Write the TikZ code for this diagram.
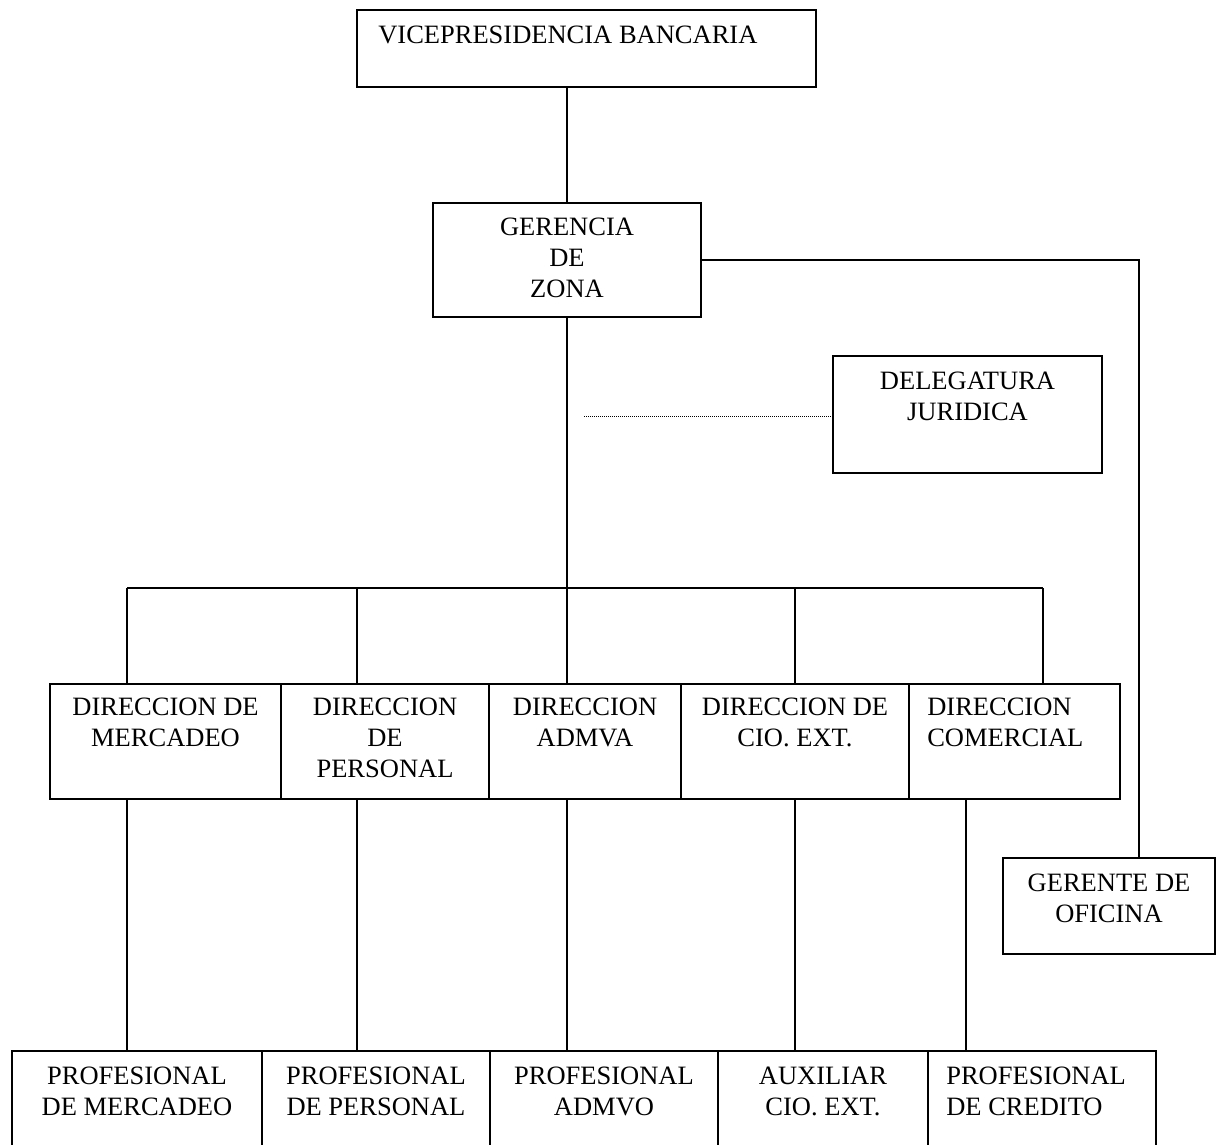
\documentclass[tikz,border=0pt]{standalone}
\usepackage{fontspec}
\setmainfont{Liberation Serif}
\usetikzlibrary{positioning}

\begin{document}
\begin{tikzpicture}[x=1pt,y=-1pt,
  caja/.style={draw,line width=1.8pt,inner sep=0pt},
  rotulo/.style={align=center,inner sep=0pt,font=\fontsize{26.5}{31}\selectfont},
  enlace/.style={line width=1.8pt},
  punteado/.style={line width=1pt,densely dotted}]
\useasboundingbox (0,0) rectangle (1220,1145);

\node[caja,minimum width=459pt,minimum height=77pt] (vp) at (586.5,48.5) {};
\node[caja,minimum width=268pt,minimum height=114pt] (gz) at (567,260) {};
\node[caja,minimum width=269pt,minimum height=117pt] (dj) at (967.5,414.5) {};
\node[caja,minimum width=212pt,minimum height=96pt] (go) at (1109,906) {};

\node[caja,minimum width=231pt,minimum height=115pt] (dm) at (165.5,741.5) {};
\node[caja,minimum width=208pt,minimum height=115pt] (dp) at (385,741.5) {};
\node[caja,minimum width=192pt,minimum height=115pt] (da) at (585,741.5) {};
\node[caja,minimum width=228pt,minimum height=115pt] (dc) at (795,741.5) {};
\node[caja,minimum width=211pt,minimum height=115pt] (dco) at (1014.5,741.5) {};

\node[caja,minimum width=250pt,minimum height=95pt] (pm) at (137,1098.5) {};
\node[caja,minimum width=228pt,minimum height=95pt] (pp) at (376,1098.5) {};
\node[caja,minimum width=228pt,minimum height=95pt] (pa) at (604,1098.5) {};
\node[caja,minimum width=210pt,minimum height=95pt] (ax) at (823,1098.5) {};
\node[caja,minimum width=228pt,minimum height=95pt] (pc) at (1042,1098.5) {};

\node[rotulo,below right=17pt and 22pt of vp.north west] {VICEPRESIDENCIA BANCARIA};
\node[rotulo,below=16pt of gz.north] {GERENCIA\\DE\\ZONA};
\node[rotulo,below=17pt of dj.north] {DELEGATURA\\JURIDICA};
\node[rotulo,below=17pt of go.north] {GERENTE DE\\OFICINA};

\node[rotulo,below=15pt of dm.north] {DIRECCION DE\\MERCADEO};
\node[rotulo,below=15pt of dp.north] {DIRECCION\\DE\\PERSONAL};
\node[rotulo,below=15pt of da.north] {DIRECCION\\ADMVA};
\node[rotulo,below=15pt of dc.north] {DIRECCION DE\\CIO. EXT.};
\node[rotulo,align=left,below right=15pt and 19pt of dco.north west] {DIRECCION\\COMERCIAL};

\node[rotulo,below=17pt of pm.north] {PROFESIONAL\\DE MERCADEO};
\node[rotulo,below=17pt of pp.north] {PROFESIONAL\\DE PERSONAL};
\node[rotulo,below=17pt of pa.north] {PROFESIONAL\\ADMVO};
\node[rotulo,below=17pt of ax.north] {AUXILIAR\\CIO. EXT.};
\node[rotulo,align=left,below right=17pt and 19pt of pc.north west] {PROFESIONAL\\DE CREDITO};

\draw[enlace] (gz.north) -- (gz.north |- vp.south);

\coordinate (codo) at (1139,260);
\draw[enlace] (gz.east) -- (codo) -- (codo |- go.north);

\coordinate (cabo) at (584,416);
\draw[punteado] (cabo) -- (cabo -| dj.west);

\foreach \n/\xb in {dm/127,dp/357,da/567,dc/795,dco/1043}{
  \coordinate (bus-\n) at (\xb,588);
  \draw[enlace] (bus-\n) -- (bus-\n |- \n.north);
}
\draw[enlace] (bus-dm) -- (bus-dco);
\draw[enlace] (gz.south) -- (bus-da);

\foreach \n/\m/\xb in {dm/pm/127,dp/pp/357,da/pa/567,dc/ax/795,dco/pc/966}{
  \coordinate (baja-\m) at (\xb,0);
  \draw[enlace] (baja-\m |- \n.south) -- (baja-\m |- \m.north);
}
\end{tikzpicture}
\end{document}
